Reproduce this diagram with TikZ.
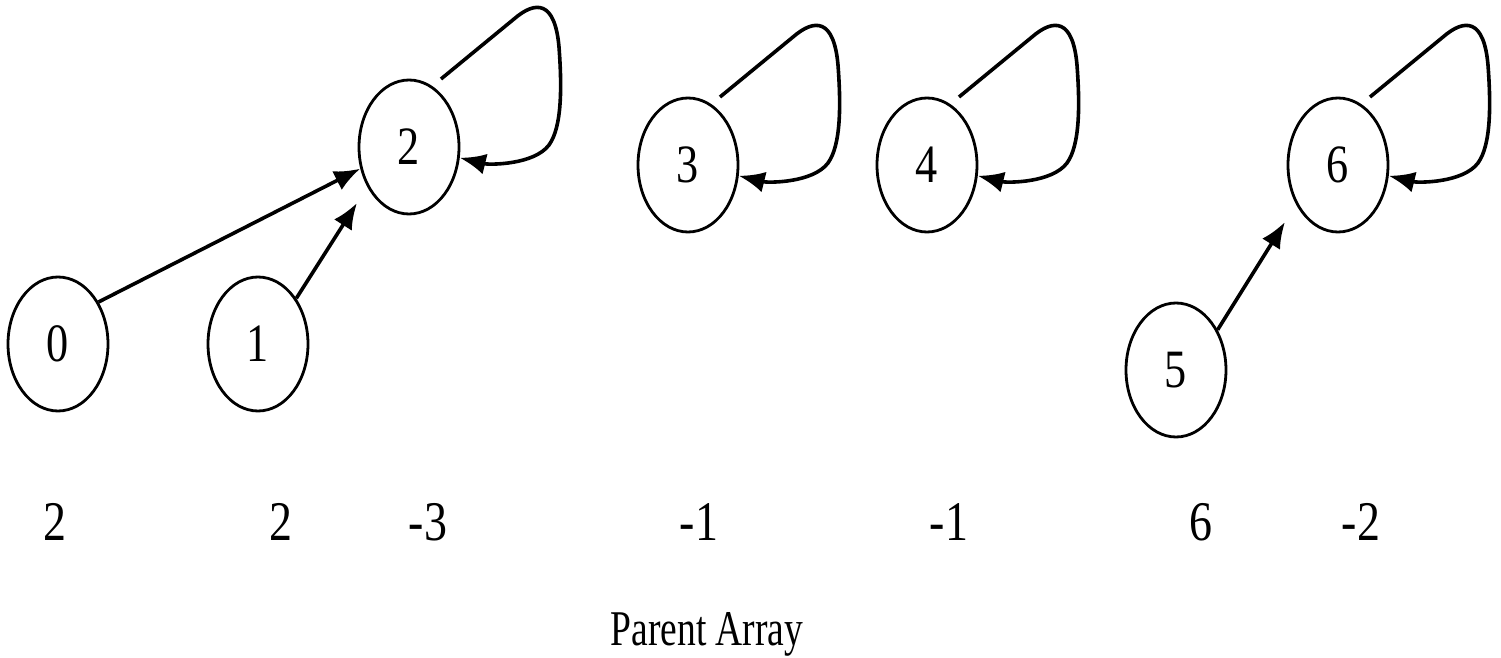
\documentclass[tikz,border=0pt]{standalone}
\usepackage{fontspec}
\setmainfont{Liberation Serif}
\usepackage{graphicx}
\usetikzlibrary{arrows.meta,shapes.geometric}
\newcommand{\cnd}[1]{\scalebox{0.82}[1]{#1}}
\begin{document}
\begin{tikzpicture}[x=0.5pt,y=-0.5pt,
  vert/.style={ellipse,draw,line width=1.4pt,minimum width=50pt,minimum height=67pt,inner sep=0pt,font=\fontsize{27}{30}\selectfont},
  val/.style={font=\fontsize{28}{32}\selectfont,inner sep=0pt},
  edge/.style={line width=1.8pt,-{Latex[length=13pt,width=10.5pt]}},
  loopline/.style={line width=1.8pt,-{Latex[length=13pt,width=10.5pt]}},
]
\useasboundingbox (0,0) rectangle (1501,658);
\node[vert] (n0) at (58,344) {\cnd{0}};
\node[vert] (n1) at (258,344) {\cnd{1}};
\node[vert] (n2) at (409,147) {\cnd{2}};
\node[vert] (n3) at (688,165) {\cnd{3}};
\node[vert] (n4) at (927,165) {\cnd{4}};
\node[vert] (n5) at (1176,370) {\cnd{5}};
\node[vert] (n6) at (1338,165) {\cnd{6}};
\foreach \n in {n2,n3,n4,n6}{
  \draw[loopline] ([shift={(32,-68)}]\n.center) -- ([shift={(105,-128)}]\n.center)
    .. controls ([shift={(127,-147)}]\n.center) and ([shift={(146,-146)}]\n.center) .. ([shift={(150,-100)}]\n.center)
    .. controls ([shift={(153,-60)}]\n.center) and ([shift={(153,-20)}]\n.center) .. ([shift={(140,-2)}]\n.center)
    .. controls ([shift={(125,18)}]\n.center) and ([shift={(80,18)}]\n.center) .. (\n.-12);
}
\draw[edge] (n0.46) -- (n2.204);
\coordinate (t12) at ([shift={(-52,56)}]n2.center);
\draw[edge] (n1.50) -- (t12);
\coordinate (t56) at ([shift={(-53,57)}]n6.center);
\draw[edge] (n5.44) -- (t56);
\node[val] (p0) at (55,522) {\cnd{2}};
\node[val] (p1) at (281,522) {\cnd{2}};
\node[val] (p2) at (428,522) {\cnd{-3}};
\node[val] (p3) at (699,522) {\cnd{-1}};
\node[val] (p4) at (949,522) {\cnd{-1}};
\node[val] (p5) at (1201,522) {\cnd{6}};
\node[val] (p6) at (1361,522) {\cnd{-2}};
\node[font=\fontsize{25}{30}\selectfont,inner sep=0pt] (title) at (707,634) {\scalebox{0.75}[1]{Parent Array}};
\end{tikzpicture}
\end{document}
